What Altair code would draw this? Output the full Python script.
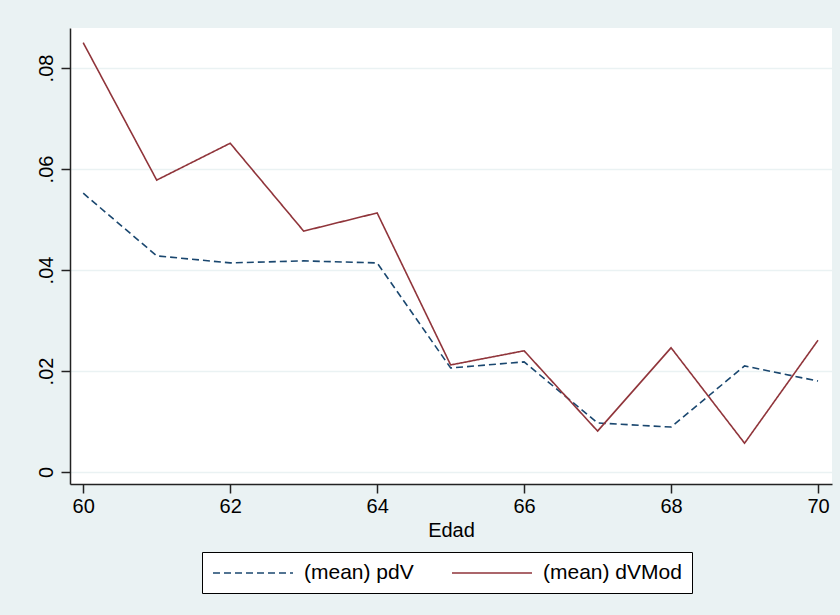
import altair as alt
import pandas as pd

edad = [60, 61, 62, 63, 64, 65, 66, 67, 68, 69, 70]
pdV = [0.0552, 0.0428, 0.0414, 0.0418, 0.0414, 0.0206, 0.0218, 0.0097, 0.0089, 0.0210, 0.0180]
dVMod = [0.0850, 0.0578, 0.0651, 0.0477, 0.0513, 0.0212, 0.0240, 0.0081, 0.0246, 0.0057, 0.0261]
series_names = ["(mean) pdV", "(mean) dVMod"]
series_colors = ["#1A476F", "#90353B"]
y_ticks = [0, 0.02, 0.04, 0.06, 0.08]
x_ticks = [60, 62, 64, 66, 68, 70]

rows = []
for e, v in zip(edad, pdV):
    rows.append({"Edad": e, "value": v, "series": series_names[0]})
for e, v in zip(edad, dVMod):
    rows.append({"Edad": e, "value": v, "series": series_names[1]})
df = pd.DataFrame(rows)

FONT = "Liberation Sans"
BG = "#EAF2F3"

chart = alt.Chart(df).mark_line(strokeWidth=1.6).encode(
    x=alt.X("Edad:Q",
            scale=alt.Scale(domain=[59.82, 70.19], nice=False, zero=False),
            axis=alt.Axis(values=x_ticks, title="Edad", grid=False, format="d",
                          tickSize=9, labelPadding=3, titlePadding=4)),
    y=alt.Y("value:Q",
            scale=alt.Scale(domain=[-0.00238, 0.08792], nice=False, zero=False),
            axis=alt.Axis(values=y_ticks, title=None, grid=True,
                          labelExpr="datum.value == 0 ? '0' : replace(format(datum.value, '.2f'), '0.', '.')",
                          labelAngle=270, labelAlign="center", labelBaseline="alphabetic",
                          tickSize=9, labelPadding=9)),
    color=alt.Color("series:N", sort=series_names,
                    scale=alt.Scale(domain=series_names, range=series_colors),
                    legend=alt.Legend(title=None)),
    strokeDash=alt.StrokeDash("series:N", sort=series_names,
                              scale=alt.Scale(domain=series_names, range=[[7, 4], [1, 0]]),
                              legend=alt.Legend(title=None)),
    order="Edad:Q",
).properties(
    width=762, height=456,
    background=BG,
    padding={"left": 70, "top": 28, "right": 8, "bottom": 131},
    autosize=alt.AutoSizeParams(type="none"),
).configure_view(
    fill="white", stroke=None
).configure_axis(
    labelFont=FONT, titleFont=FONT, labelFontSize=20, titleFontSize=20,
    labelColor="black", titleColor="black", titleFontWeight="normal",
    domainColor="#222222", domainWidth=1.5, tickColor="#222222", tickWidth=1.5,
    gridColor=BG, gridWidth=1.5,
).configure_legend(
    orient="none", legendX=132, legendY=524, direction="horizontal",
    strokeColor="black", fillColor="white", padding=10,
    symbolType="M-4,0L4,0", symbolSize=400, symbolStrokeWidth=1.6,
    symbolOffset=30,
    labelFont=FONT, labelFontSize=21, labelColor="black", labelOffset=40,
    columnPadding=34, symbolOpacity=1,
)

chart.save("out.html", embed_options={"renderer": "svg", "actions": False})
